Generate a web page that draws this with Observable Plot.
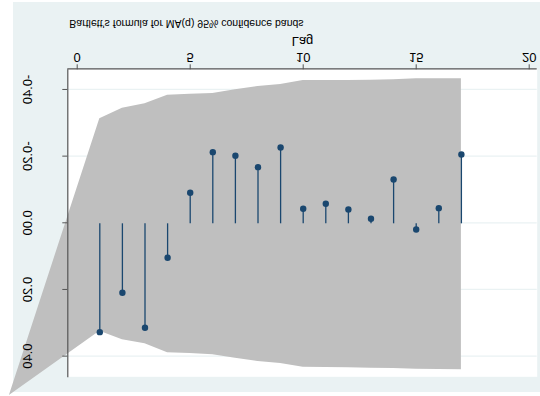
<!DOCTYPE html>
<html>
<head>
<meta charset="utf-8">
<script src="https://cdn.jsdelivr.net/npm/d3@7"></script>
<script src="https://cdn.jsdelivr.net/npm/@observablehq/plot@0.6"></script>
<style>
html, body { margin: 0; padding: 0; background: #ffffff; }
#wrap { position: relative; width: 540px; height: 396px; background: #ffffff; transform: scaleY(-1); transform-origin: 50% 50%; overflow: hidden; }
#wrap svg { position: absolute; left: 13px; top: 4px; }
</style>
</head>
<body>
<div id="wrap"></div>
<script>
// Lags and autocorrelations
const lags = [1, 2, 3, 4, 5, 6, 7, 8, 9, 10, 11, 12, 13, 14, 15, 16, 17];
const acValues = [0.328, 0.210, 0.315, 0.105, -0.090, -0.212, -0.201, -0.167, -0.226, -0.042, -0.057, -0.040, -0.012, -0.130, 0.020, -0.044, -0.205];
// Bartlett band bounds per lag
const bandLower = [-0.315, -0.347, -0.360, -0.386, -0.389, -0.391, -0.402, -0.412, -0.418, -0.430, -0.430, -0.430, -0.431, -0.432, -0.435, -0.435, -0.435];
const bandUpper = [0.322, 0.348, 0.360, 0.387, 0.389, 0.393, 0.403, 0.413, 0.419, 0.430, 0.431, 0.432, 0.433, 0.434, 0.436, 0.437, 0.438];
// The band's stray apex, outside the plot region
const apexLag = [-3];
const apexValue = [0.515];
// Ticks and labels
const xTicks = [0, 5, 10, 15, 20];
const yTicks = [-0.4, -0.2, 0, 0.2, 0.4];
const xDomain = [-0.416, 20.354];
const yDomain = [-0.462, 0.462];
const xLabel = ["Lag"];
const note = ["Bartlett's formula for MA(q) 95% confidence bands"];

const acData = lags.map((lag, i) => ({lag, ac: acValues[i]}));
const band = apexLag.map((lag, i) => ({lag, lo: apexValue[i], hi: apexValue[i]}))
  .concat(lags.map((lag, i) => ({lag, lo: bandLower[i], hi: bandUpper[i]})));

const chart = Plot.plot({
  width: 527,
  height: 390,
  marginLeft: 54.3,
  marginRight: 3.3,
  marginTop: 14.7,
  marginBottom: 67.3,
  style: {background: "#eaf2f3", overflow: "visible", fontFamily: "'Liberation Sans', Arial, sans-serif", color: "#000"},
  x: {domain: xDomain},
  y: {domain: yDomain},
  marks: [
    Plot.frame({fill: "white", stroke: "none"}),
    Plot.gridY(yTicks, {stroke: "#eaf2f3", strokeOpacity: 1, strokeWidth: 1.2}),
    Plot.areaY(band, {x: "lag", y1: "lo", y2: "hi", fill: "#bfbfbf", curve: "linear"}),
    Plot.ruleX(acData, {x: "lag", y1: 0, y2: "ac", stroke: "#1a476f", strokeWidth: 1.3}),
    Plot.dot(acData, {x: "lag", y: "ac", r: 3.2, fill: "#1a476f", stroke: "none"}),
    Plot.ruleY([yDomain[0]], {stroke: "#555", strokeWidth: 1.2}),
    Plot.ruleX([xDomain[0]], {stroke: "#555", strokeWidth: 1.2}),
    Plot.axisX(xTicks, {tickSize: 5, tickPadding: 2, fontSize: 13, stroke: "#555", label: null}),
    Plot.axisY(yTicks, {tickSize: 5, tickRotate: -90, tickPadding: 30.6, tickFormat: d => d.toFixed(2), fontSize: 13, stroke: "#555", label: null}),
    Plot.text(xLabel, {frameAnchor: "bottom", dy: 31.8, lineAnchor: "bottom", fontSize: 13}),
    Plot.text(note, {frameAnchor: "bottom-left", dx: 1.5, dy: 48.8, textAnchor: "start", lineAnchor: "bottom", fontSize: 10.5})
  ]
});
document.getElementById("wrap").appendChild(chart);
</script>
</body>
</html>
